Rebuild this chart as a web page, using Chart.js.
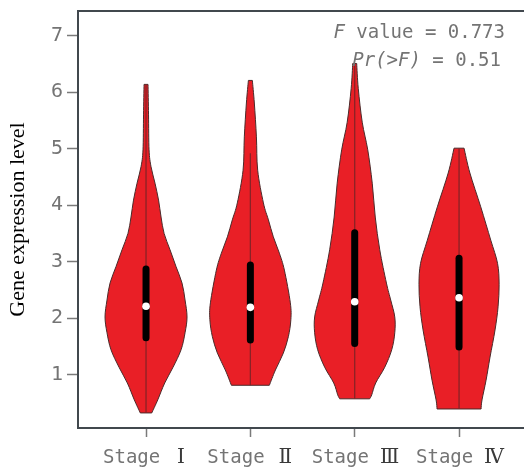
<!DOCTYPE html>
<html>
<head>
<meta charset="utf-8">
<script src="https://cdn.jsdelivr.net/npm/chart.js@4.4.1/dist/chart.umd.min.js"></script>
<style>
  html, body { margin: 0; padding: 0; background: #fff; overflow: hidden; }
  #wrap { width: 530px; height: 472px; }
</style>
</head>
<body>
<div id="wrap"><canvas id="violin_chart"></canvas></div>
<script>
// categories and tick labels
const categories = ["Stage Ⅰ", "Stage Ⅱ", "Stage Ⅲ", "Stage Ⅳ"];
const xPositions = [1, 2, 3, 4];
const yTicks = [1, 2, 3, 4, 5, 6, 7];

// box summary per stage
const q1 = [1.65, 1.61, 1.55, 1.49];
const q3 = [2.87, 2.94, 3.51, 3.06];
const medians = [2.21, 2.19, 2.29, 2.36];
const whiskerLow = [0.32, 0.81, 0.57, 0.39];
const whiskerHigh = [6.14, 4.92, 6.51, 5.01];

// violin outlines: expression level and half width (in category units)
const stage1Levels = [6.14, 5.6, 4.98, 4.68, 4.39, 4.09, 3.79, 3.5, 3.21, 2.91, 2.62, 2.32, 2.02, 1.74, 1.44, 1.13, 0.85, 0.55, 0.32];
const stage1Widths = [0.019, 0.024, 0.029, 0.048, 0.086, 0.12, 0.144, 0.173, 0.23, 0.288, 0.345, 0.374, 0.393, 0.374, 0.336, 0.259, 0.179, 0.112, 0.055];
const stage2Levels = [6.21, 5.81, 5.21, 4.62, 4.04, 3.74, 3.44, 3.15, 2.85, 2.27, 1.97, 1.67, 1.38, 1.08, 0.81];
const stage2Widths = [0.019, 0.038, 0.058, 0.07, 0.125, 0.173, 0.22, 0.278, 0.326, 0.383, 0.388, 0.364, 0.316, 0.24, 0.182];
const stage3Levels = [6.51, 6.07, 5.47, 4.98, 4.39, 3.79, 3.21, 2.62, 2.32, 2.02, 1.74, 1.44, 1.13, 0.85, 0.64, 0.57];
const stage3Widths = [0.019, 0.034, 0.072, 0.125, 0.168, 0.197, 0.24, 0.304, 0.345, 0.384, 0.384, 0.355, 0.288, 0.201, 0.163, 0.144];
const stage4Levels = [5.01, 4.57, 3.97, 3.38, 2.97, 2.6, 2.2, 1.79, 1.31, 0.9, 0.55, 0.39];
const stage4Widths = [0.048, 0.104, 0.208, 0.304, 0.369, 0.384, 0.374, 0.345, 0.297, 0.259, 0.22, 0.211];

const violinLevels = [stage1Levels, stage2Levels, stage3Levels, stage4Levels];
const violinWidths = [stage1Widths, stage2Widths, stage3Widths, stage4Widths];

const fValue = "0.773";
const pValue = "0.51";

const monoFont = '"DejaVu Sans Mono", monospace';
const textGray = "#747474";
const axisColor = "#41484e";

// catmull-rom through points, appended to current path
function smoothSide(ctx, pts) {
  for (let i = 0; i < pts.length - 1; i++) {
    const p0 = pts[i - 1] || pts[i];
    const p1 = pts[i];
    const p2 = pts[i + 1];
    const p3 = pts[i + 2] || p2;
    ctx.bezierCurveTo(
      p1.x + (p2.x - p0.x) / 6, p1.y + (p2.y - p0.y) / 6,
      p2.x - (p3.x - p1.x) / 6, p2.y - (p3.y - p1.y) / 6,
      p2.x, p2.y
    );
  }
}

const violinPlugin = {
  id: "violins",
  beforeDatasetsDraw(chart) {
    const ctx = chart.ctx;
    const xs = chart.scales.x;
    const ys = chart.scales.y;
    ctx.save();
    for (let i = 0; i < categories.length; i++) {
      const lv = violinLevels[i];
      const wd = violinWidths[i];
      const right = lv.map((v, k) => ({ x: xs.getPixelForValue(xPositions[i] + wd[k]), y: ys.getPixelForValue(v) }));
      const left = lv.map((v, k) => ({ x: xs.getPixelForValue(xPositions[i] - wd[k]), y: ys.getPixelForValue(v) })).reverse();
      ctx.beginPath();
      ctx.moveTo(right[0].x, right[0].y);
      smoothSide(ctx, right);
      ctx.lineTo(left[0].x, left[0].y);
      smoothSide(ctx, left);
      ctx.closePath();
      ctx.fillStyle = "#e91f26";
      ctx.fill();
      ctx.lineWidth = 1;
      ctx.strokeStyle = "#4a2a2a";
      ctx.stroke();

      const cx = xs.getPixelForValue(xPositions[i]);
      ctx.beginPath();
      ctx.moveTo(cx, ys.getPixelForValue(whiskerHigh[i]));
      ctx.lineTo(cx, ys.getPixelForValue(whiskerLow[i]));
      ctx.lineWidth = 1.3;
      ctx.strokeStyle = "#8a2226";
      ctx.stroke();

      ctx.beginPath();
      ctx.moveTo(cx, ys.getPixelForValue(q3[i]));
      ctx.lineTo(cx, ys.getPixelForValue(q1[i]));
      ctx.lineWidth = 7;
      ctx.lineCap = "round";
      ctx.strokeStyle = "#000";
      ctx.stroke();
      ctx.lineCap = "butt";
    }
    ctx.restore();
  },
  afterDraw(chart) {
    const ctx = chart.ctx;
    const xs = chart.scales.x;
    const area = chart.chartArea;
    ctx.save();
    // top frame line
    ctx.beginPath();
    ctx.moveTo(area.left - 1, area.top);
    ctx.lineTo(area.right, area.top);
    ctx.lineWidth = 2;
    ctx.strokeStyle = axisColor;
    ctx.stroke();

    // stage labels: word in mono, numeral in serif
    ctx.textBaseline = "alphabetic";
    categories.forEach((lab, i) => {
      const parts = lab.split(" ");
      const tx = xs.getPixelForValue(xPositions[i]);
      ctx.font = "19px " + monoFont;
      ctx.fillStyle = textGray;
      ctx.textAlign = "left";
      ctx.fillText(parts[0], tx - 43, xs.top + 35);
      ctx.font = '20px "DejaVu Serif", "Liberation Serif", serif';
      ctx.fillStyle = "#3a3a3a";
      ctx.textAlign = "center";
      ctx.fillText(parts[1], tx + 35, xs.top + 35);
    });

    // anova annotation
    ctx.fillStyle = textGray;
    ctx.textAlign = "right";
    const line1 = " value = " + fValue;
    ctx.font = "19px " + monoFont;
    const l1w = ctx.measureText(line1).width;
    ctx.fillText(line1, 505, 38);
    ctx.font = "italic 19px " + monoFont;
    ctx.fillText("F", 505 - l1w, 38);

    const line2 = " = " + pValue;
    ctx.font = "19px " + monoFont;
    const l2w = ctx.measureText(line2).width;
    ctx.fillText(line2, 501, 66);
    ctx.font = "italic 19px " + monoFont;
    ctx.fillText("Pr(>F)", 501 - l2w, 66);
    ctx.restore();
  },
};

let violin_chart = document.getElementById("violin_chart");
let violinChart = new Chart(violin_chart, {
  type: "scatter",
  data: {
    datasets: [
      {
        label: "Median",
        data: medians.map((m, i) => ({ x: xPositions[i], y: m })),
        pointRadius: 3.8,
        pointBackgroundColor: "#fff",
        pointBorderWidth: 0,
        pointHoverRadius: 3.8,
        clip: false,
      },
    ],
  },
  options: {
    responsive: true,
    maintainAspectRatio: false,
    devicePixelRatio: 1,
    animation: false,
    events: [],
    layout: { autoPadding: false, padding: { top: 11, right: 0, bottom: 0, left: 0 } },
    plugins: {
      legend: { display: false },
      tooltip: { enabled: false },
    },
    scales: {
      x: {
        type: "linear",
        position: "bottom",
        min: 0.348,
        max: 4.68,
        afterBuildTicks: (s) => {
          s.ticks = xPositions.map((v) => ({ value: v }));
        },
        afterFit: (s) => {
          s.height = 44;
        },
        ticks: { display: false },
        grid: {
          drawOnChartArea: false,
          tickLength: 9,
          tickColor: "#7a7a7a",
          tickWidth: 1.5,
        },
        border: { display: true, color: axisColor, width: 2 },
      },
      y: {
        type: "linear",
        position: "left",
        min: 0.053,
        max: 7.44,
        afterBuildTicks: (s) => {
          s.ticks = yTicks.map((v) => ({ value: v }));
        },
        afterFit: (s) => {
          s.width = 78;
          s.paddingTop = 0;
          s.paddingBottom = 0;
        },
        ticks: {
          padding: 4,
          color: textGray,
          font: { family: monoFont, size: 20 },
        },
        grid: {
          drawOnChartArea: false,
          tickLength: 11,
          tickColor: "#7a7a7a",
          tickWidth: 1.5,
        },
        border: { display: true, color: axisColor, width: 2 },
        title: {
          display: true,
          text: "Gene expression level",
          color: "#000",
          padding: { top: 5, bottom: 0 },
          font: { family: '"Liberation Serif", "Times New Roman", serif', size: 22 },
        },
      },
    },
  },
  plugins: [violinPlugin],
});
</script>
</body>
</html>
